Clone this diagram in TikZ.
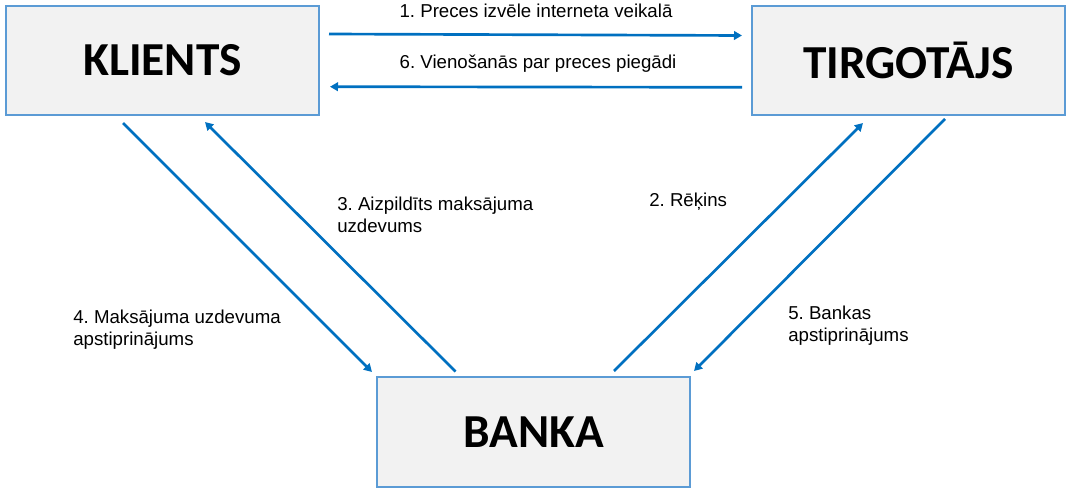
\documentclass[tikz,border=0pt]{standalone}
\usepackage{fontspec}
\setmainfont{Liberation Sans}
\newfontfamily\boxfont{Carlito}
\usetikzlibrary{arrows.meta}
\definecolor{boxblue}{HTML}{5B9BD5}
\definecolor{flowblue}{HTML}{0070C0}
\definecolor{boxgray}{HTML}{F2F2F2}
\frenchspacing

\begin{document}
\begin{tikzpicture}[x = 0.75pt, y = -0.75pt,
	party/.style = {draw = boxblue, line width = 1.3pt, fill = boxgray, minimum width = 235pt, minimum height = 82pt, font = \boxfont\bfseries\fontsize{35.5}{40}\selectfont},
	flow/.style = {draw = flowblue, line width = 2pt, -{Triangle[length = 6pt, width = 6.5pt]}},
	lbl/.style = {font = \fontsize{14}{16.5}\selectfont, inner sep = 0pt, align = left}]
			\useasboundingbox (0, 0) rectangle (1072, 493);
			\node[party] (klients) at (162.5, 60.5) {KLIENTS};
			\node[party] (tirgotajs) at (908.5, 60.5) {TIRGOTĀJS};
			\node[party] (banka) at (533.5, 432) {BANKA};
			\coordinate (s1) at (329, 34);
			\coordinate (e1) at (742, 35.5);
			\coordinate (s6) at (742, 87.3);
			\coordinate (e6) at (330, 86.7);
			\coordinate (s4) at (123, 123);
			\coordinate (e4) at (372, 372);
			\coordinate (s3) at (455.5, 371.5);
			\coordinate (e3) at (205, 122);
			\coordinate (s2) at (614, 371);
			\coordinate (e2) at (863, 123);
			\coordinate (s5) at (945, 119);
			\coordinate (e5) at (694, 371);
			\foreach \a/\b in {s1/e1, s2/e2, s3/e3, s4/e4, s5/e5, s6/e6}
			\draw[flow] (\a) -- (\b);
			% two-line labels are placed by the baseline of their last line
			\node[lbl, anchor = base] (l1) at (536, 17.5) {1. Preces izvēle interneta veikalā};
			\node[lbl, anchor = base] (l6) at (538, 68.3) {6. Vienošanās par preces piegādi};
			\node[lbl, anchor = base west] (l2) at (649, 206.7) {2. Rēķins};
			\node[lbl, anchor = base west] (l3) at (337, 232.7) {3. Aizpildīts maksājuma\\uzdevums};
			\node[lbl, anchor = base west] (l4) at (73, 345) {4. Maksājuma uzdevuma\\apstiprinājums};
			\node[lbl, anchor = base west] (l5) at (788, 341.7) {5. Bankas\\apstiprinājums};
\end{tikzpicture}
\end{document}
